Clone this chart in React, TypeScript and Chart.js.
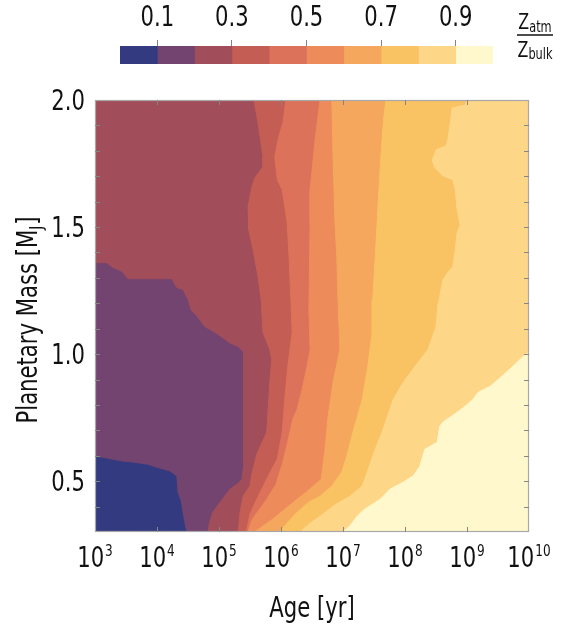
import React, { useEffect, useRef } from 'react';
import { Chart, registerables } from 'chart.js';

Chart.register(...registerables);

const FONT = "'Liberation Sans Narrow', 'DejaVu Sans Condensed', 'Noto Sans', sans-serif";
Chart.defaults.font.family = FONT;

// ---- colour levels of Z_atm / Z_bulk (bins of 0.1) ----
const levelColors = ['#343a7f', '#72446f', '#a24d5a', '#c45e54', '#dc7259', '#ee8b5b', '#f4a75d', '#f9c262', '#fdd688', '#fff8cc'];
const colorbarEdges = [0, 0.1, 0.2, 0.3, 0.4, 0.5, 0.6, 0.7, 0.8, 0.9, 1.0];
const colorbarTicks = [0.1, 0.3, 0.5, 0.7, 0.9];

// ---- axes ----
const ageExponents = [3, 4, 5, 6, 7, 8, 9, 10];
const massTickLabels = [0.5, 1.0, 1.5, 2.0];
const massMinorTicks = [0.4, 0.5, 0.6, 0.7, 0.8, 0.9, 1.0, 1.1, 1.2, 1.3, 1.4, 1.5, 1.6, 1.7, 1.8, 1.9];
const ageMin = 3;
const ageMax = 10;
const massMin = 0.3;
const massMax = 2.0;

// ---- contour boundaries: [log10(age/yr), mass/MJ] ----
const edge01 = [[3.00, 0.598], [3.13, 0.594], [3.45, 0.579], [3.61, 0.575], [3.85, 0.567], [4.00, 0.555], [4.21, 0.540], [4.32, 0.520], [4.34, 0.457], [4.39, 0.422], [4.42, 0.378], [4.48, 0.30]];
const edge12 = [[3.00, 1.360], [3.19, 1.360], [3.27, 1.344], [3.44, 1.325], [3.53, 1.297], [4.24, 1.297], [4.32, 1.262], [4.42, 1.254], [4.50, 1.215], [4.55, 1.175], [4.65, 1.148], [4.77, 1.109], [4.94, 1.085], [5.10, 1.058], [5.16, 1.046], [5.31, 1.030], [5.40, 1.007], [5.40, 0.822], [5.39, 0.559], [5.37, 0.508], [5.31, 0.492], [5.18, 0.469], [5.02, 0.418], [4.90, 0.378], [4.85, 0.339], [4.82, 0.30]];
const edge23 = [[5.565, 2.0], [5.63, 1.910], [5.71, 1.776], [5.71, 1.737], [5.58, 1.694], [5.53, 1.658], [5.47, 1.580], [5.48, 1.490], [5.55, 1.411], [5.63, 1.305], [5.68, 1.215], [5.71, 1.085], [5.82, 1.018], [5.85, 0.979], [5.82, 0.889], [5.77, 0.693], [5.61, 0.606], [5.53, 0.528], [5.50, 0.481], [5.39, 0.441], [5.34, 0.378], [5.31, 0.30]];
const edge34 = [[6.08, 2.0], [6.03, 1.910], [5.95, 1.843], [5.90, 1.776], [5.94, 1.686], [6.02, 1.647], [6.10, 1.517], [6.13, 1.384], [6.16, 1.215], [6.18, 1.085], [6.11, 0.952], [6.06, 0.822], [6.02, 0.693], [5.94, 0.587], [5.85, 0.547], [5.76, 0.504], [5.61, 0.429], [5.50, 0.371], [5.44, 0.30]];
const edge45 = [[6.63, 2.0], [6.55, 1.843], [6.47, 1.647], [6.47, 1.517], [6.45, 1.175], [6.47, 1.018], [6.42, 0.952], [6.34, 0.861], [6.26, 0.783], [6.19, 0.744], [6.10, 0.645], [6.02, 0.567], [5.92, 0.488], [5.77, 0.429], [5.63, 0.382], [5.53, 0.347], [5.47, 0.30]];
const edge56 = [[6.82, 2.0], [6.84, 1.776], [6.87, 1.517], [6.90, 1.384], [6.92, 1.215], [6.95, 1.018], [6.84, 0.889], [6.76, 0.755], [6.71, 0.626], [6.65, 0.508], [6.52, 0.481], [6.39, 0.453], [6.26, 0.429], [6.06, 0.390], [5.87, 0.351], [5.71, 0.324], [5.58, 0.30]];
const edge67 = [[7.69, 2.0], [7.65, 1.910], [7.61, 1.776], [7.58, 1.647], [7.55, 1.517], [7.52, 1.384], [7.48, 1.215], [7.47, 1.085], [7.40, 0.952], [7.31, 0.822], [7.16, 0.693], [7.06, 0.598], [6.98, 0.536], [6.82, 0.481], [6.63, 0.441], [6.45, 0.418], [6.26, 0.378], [6.11, 0.339], [5.98, 0.30]];
const edge78 = [[9.00, 2.0], [8.97, 1.980], [8.76, 1.969], [8.73, 1.910], [8.69, 1.843], [8.66, 1.819], [8.50, 1.804], [8.44, 1.764], [8.48, 1.733], [8.61, 1.702], [8.77, 1.686], [8.81, 1.647], [8.84, 1.568], [8.89, 1.509], [8.84, 1.478], [8.81, 1.411], [8.77, 1.344], [8.69, 1.321], [8.61, 1.293], [8.56, 1.227], [8.53, 1.195], [8.50, 1.109], [8.37, 1.018], [8.16, 0.952], [7.97, 0.889], [7.81, 0.822], [7.63, 0.693], [7.52, 0.626], [7.39, 0.536], [7.31, 0.481], [7.11, 0.441], [6.84, 0.402], [6.66, 0.367], [6.47, 0.335], [6.31, 0.30]];
const edge89 = [[10.0, 1.007], [9.89, 0.987], [9.74, 0.952], [9.56, 0.912], [9.37, 0.873], [9.18, 0.850], [9.10, 0.822], [8.97, 0.795], [8.84, 0.771], [8.61, 0.732], [8.56, 0.716], [8.52, 0.653], [8.32, 0.626], [8.24, 0.559], [8.13, 0.520], [7.97, 0.496], [7.76, 0.469], [7.60, 0.429], [7.35, 0.390], [7.23, 0.363], [7.11, 0.324], [7.00, 0.30]];

const fullArea = [[ageMin, massMin], [ageMin, massMax], [ageMax, massMax], [ageMax, massMin]];
const closeTopLeft = [[ageMax, massMin], [ageMax, massMax], [ageMin, massMax]];
const closeTopRight = [[ageMax, massMin], [ageMax, massMax]];
const closeBottomRight = [[ageMax, massMin]];

const regions = [
  fullArea,
  [...edge01, ...closeTopLeft],
  [...edge12, ...closeTopLeft],
  [...edge23, ...closeTopRight],
  [...edge34, ...closeTopRight],
  [...edge45, ...closeTopRight],
  [...edge56, ...closeTopRight],
  [...edge67, ...closeTopRight],
  [...edge78, ...closeTopRight],
  [...edge89, ...closeBottomRight],
];

const toPoints = (pairs: number[][]) => pairs.map(([a, m]) => ({ x: Math.pow(10, a), y: m }));

const TEXT = '#111111';
const FRAME = '#a8a8a8';
const TICK = '#858585';
const SX = 0.84; // horizontal condensing of the text

const font = (size: number) => `${size}px ${FONT}`;

function textWidth(ctx: any, text: string, size: number) {
  ctx.font = font(size);
  return ctx.measureText(text).width * SX;
}

// draws text starting at x (left edge), baseline y, condensed horizontally
function drawText(ctx: any, text: string, x: number, y: number, size: number) {
  ctx.save();
  ctx.font = font(size);
  ctx.textAlign = 'left';
  ctx.textBaseline = 'alphabetic';
  ctx.translate(x, y);
  ctx.scale(SX, 1);
  ctx.fillText(text, 0, 0);
  ctx.restore();
}

const decorPlugin = {
  id: 'decor',
  afterDraw(chart: any) {
    const { ctx, chartArea } = chart;
    const xs = chart.scales.x;
    const ys = chart.scales.y;
    const { left, right, top, bottom } = chartArea;
    ctx.save();
    // frame
    ctx.strokeStyle = FRAME;
    ctx.lineWidth = 1.2;
    ctx.strokeRect(left + 0.5, top + 0.5, right - left - 1, bottom - top - 1);
    // inward ticks
    ctx.strokeStyle = TICK;
    ctx.lineWidth = 1;
    ctx.beginPath();
    ageExponents.slice(1, -1).forEach((e) => {
      const px = Math.round(xs.getPixelForValue(Math.pow(10, e))) + 0.5;
      ctx.moveTo(px, bottom);
      ctx.lineTo(px, bottom - 5);
      ctx.moveTo(px, top);
      ctx.lineTo(px, top + 5);
    });
    massMinorTicks.forEach((v) => {
      const py = Math.round(ys.getPixelForValue(v)) + 0.5;
      ctx.moveTo(left, py);
      ctx.lineTo(left + 5, py);
      ctx.moveTo(right, py);
      ctx.lineTo(right - 5, py);
    });
    ctx.stroke();
    ctx.fillStyle = TEXT;
    // x tick labels 10^n
    ageExponents.forEach((e) => {
      const px = xs.getPixelForValue(Math.pow(10, e));
      const w1 = textWidth(ctx, '10', 28);
      const w2 = textWidth(ctx, String(e), 16);
      const x0 = px - (w1 + 1 + w2) / 2;
      drawText(ctx, '10', x0, 567, 28);
      drawText(ctx, String(e), x0 + w1 + 1, 556, 16);
    });
    // y tick labels
    massTickLabels.forEach((v) => {
      const py = ys.getPixelForValue(v);
      const label = v.toFixed(1);
      const w = textWidth(ctx, label, 28);
      drawText(ctx, label, 85 - w, py + 10, 28);
    });
    // x title
    const wt = textWidth(ctx, 'Age [yr]', 28);
    drawText(ctx, 'Age [yr]', (left + right) / 2 - wt / 2, 617, 28);
    // y title with subscript
    ctx.translate(37, 320);
    ctx.rotate(-Math.PI / 2);
    const p1 = 'Planetary Mass [M';
    const p2 = 'J';
    const p3 = ']';
    const a1 = textWidth(ctx, p1, 28);
    const a2 = textWidth(ctx, p2, 18);
    const a3 = textWidth(ctx, p3, 28);
    let cx = -(a1 + a2 + a3 + 1) / 2;
    drawText(ctx, p1, cx, 0, 28);
    cx += a1;
    drawText(ctx, p2, cx, 5, 18);
    cx += a2 + 1;
    drawText(ctx, p3, cx, 0, 28);
    ctx.restore();
  },
};

const colorbarPlugin = {
  id: 'colorbarText',
  afterDraw(chart: any) {
    const { ctx } = chart;
    const xs = chart.scales.x;
    ctx.save();
    ctx.fillStyle = TEXT;
    colorbarTicks.forEach((v) => {
      const px = xs.getPixelForValue(v);
      const label = v.toFixed(1);
      const w = textWidth(ctx, label, 28);
      drawText(ctx, label, px - w / 2, 26, 28);
    });
    // Z_atm / Z_bulk
    const cx = 535;
    const frac = (sub: string, baseY: number, subY: number) => {
      const wz = textWidth(ctx, 'Z', 21);
      const ws = textWidth(ctx, sub, 15);
      const x0 = cx - (wz + ws) / 2;
      drawText(ctx, 'Z', x0, baseY, 21);
      drawText(ctx, sub, x0 + wz, subY, 15);
    };
    frac('atm', 29, 32);
    ctx.strokeStyle = TEXT;
    ctx.lineWidth = 1.5;
    ctx.beginPath();
    ctx.moveTo(517, 35);
    ctx.lineTo(553, 35);
    ctx.stroke();
    frac('bulk', 57, 59);
    ctx.restore();
  },
};

function App() {
  const mainRef = useRef<HTMLCanvasElement>(null);
  const barRef = useRef<HTMLCanvasElement>(null);

  useEffect(() => {
    const main = new Chart(mainRef.current as HTMLCanvasElement, {
      type: 'scatter',
      data: {
        datasets: regions.map((poly, k) => ({
          data: toPoints(poly),
          showLine: true,
          fill: 'shape',
          backgroundColor: levelColors[k],
          borderColor: levelColors[k],
          borderWidth: 1,
          pointRadius: 0,
          pointHoverRadius: 0,
          tension: 0,
          order: regions.length - k,
        })),
      } as any,
      options: {
        responsive: false,
        animation: false,
        events: [],
        layout: { padding: { top: 100, right: 43, left: 0, bottom: 0 } },
        plugins: { legend: { display: false }, tooltip: { enabled: false } },
        scales: {
          x: {
            type: 'logarithmic',
            min: Math.pow(10, ageMin),
            max: Math.pow(10, ageMax),
            afterBuildTicks: (s: any) => {
              s.ticks = ageExponents.map((e) => ({ value: Math.pow(10, e) }));
            },
            ticks: { display: false },
            grid: { display: false, drawTicks: false },
            border: { display: false },
            afterFit: (s: any) => {
              s.height = 96;
            },
          },
          y: {
            type: 'linear',
            min: massMin,
            max: massMax,
            afterBuildTicks: (s: any) => {
              s.ticks = massTickLabels.map((v) => ({ value: v }));
            },
            ticks: { display: false },
            grid: { display: false, drawTicks: false },
            border: { display: false },
            afterFit: (s: any) => {
              s.width = 95;
            },
          },
        },
      } as any,
      plugins: [decorPlugin],
    });

    const bar = new Chart(barRef.current as HTMLCanvasElement, {
      type: 'bar',
      data: {
        labels: [''],
        datasets: levelColors.map((c, i) => ({
          data: [[colorbarEdges[i], colorbarEdges[i + 1]]],
          backgroundColor: c,
          borderWidth: 0,
          barPercentage: 1,
          categoryPercentage: 1,
          grouped: false,
        })),
      } as any,
      options: {
        indexAxis: 'y',
        responsive: false,
        animation: false,
        events: [],
        layout: { padding: { top: 0, right: 79, left: 120, bottom: 16 } },
        plugins: { legend: { display: false }, tooltip: { enabled: false } },
        scales: {
          x: {
            type: 'linear',
            position: 'top',
            min: 0,
            max: 1,
            afterBuildTicks: (s: any) => {
              s.ticks = colorbarTicks.map((v) => ({ value: v }));
            },
            ticks: { display: false },
            grid: { drawOnChartArea: false, drawTicks: true, tickLength: 6, color: TICK },
            border: { display: false },
            afterFit: (s: any) => {
              s.height = 46;
            },
          },
          y: { display: false },
        },
      } as any,
      plugins: [colorbarPlugin],
    });

    return () => {
      main.destroy();
      bar.destroy();
    };
  }, []);

  return (
    <div style={{ position: 'absolute', left: 0, top: 0, width: 572, height: 628, background: '#ffffff' }}>
      <canvas ref={mainRef} width={572} height={628} style={{ position: 'absolute', left: 0, top: 0 }} />
      <canvas ref={barRef} width={572} height={80} style={{ position: 'absolute', left: 0, top: 0 }} />
    </div>
  );
}

export default App;
